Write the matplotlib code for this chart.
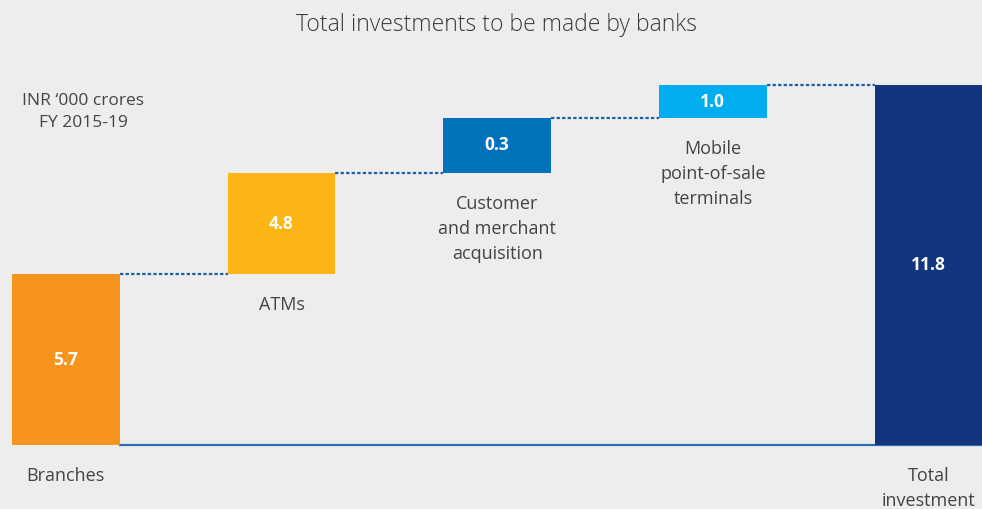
import matplotlib
matplotlib.use("Agg")
import matplotlib.pyplot as plt
from matplotlib import font_manager

# ---- data ----
categories = ["Branches", "ATMs", "Customer\nand merchant\nacquisition",
              "Mobile\npoint-of-sale\nterminals", "Total\ninvestment"]
value_labels = ["5.7", "4.8", "0.3", "1.0", "11.8"]
# displayed segment heights as drawn in the reference (not to scale)
segment_heights = [5.62, 3.33, 1.82, 1.06]
total_height = 11.83
colors = ["#F7941D", "#FDB515", "#0072BC", "#00AEEF", "#12357E"]

title = "Total investments to be made by banks"
unit_note = "INR \u2018000 crores\nFY 2015-19"

# ---- style ----
avail = {f.name for f in font_manager.fontManager.ttflist}
fam = ["Open Sans", "DejaVu Sans"] if "Open Sans" in avail else ["DejaVu Sans"]
plt.rcParams["font.family"] = fam
bg = "#EDEDED"
text_col = "#444444"

fig = plt.figure(figsize=(9.82, 5.09), dpi=100, facecolor=bg)
ax = fig.add_axes([0, 0, 1, 1])
ax.set_facecolor(bg)
ax.set_xlim(-0.305, 4.248)
ax.set_ylim(-2.105, 14.64)
ax.axis("off")

w = 0.5
bottoms = []
acc = 0.0
for h in segment_heights:
    bottoms.append(acc)
    acc += h
heights = segment_heights + [total_height]
bottoms = bottoms + [0.0]
xs = list(range(len(heights)))

ax.bar(xs, heights, bottom=bottoms, width=w, color=colors, edgecolor="none", zorder=3)

# connectors
tops = [b + h for b, h in zip(bottoms, heights)]
for i in range(len(xs) - 1):
    ax.plot([xs[i] + w / 2, xs[i + 1] - w / 2], [tops[i], tops[i]],
            color="#1F5FA6", lw=1.6, ls=(0, (1.5, 1.0)), zorder=2)

# baseline
ax.plot([xs[0] + w / 2, ax.get_xlim()[1]], [0, 0], color="#2E6DB0", lw=1.6, zorder=2)

# value labels
for x, b, h, lab in zip(xs, bottoms, heights, value_labels):
    ax.text(x, b + h / 2, lab, color="white", fontsize=12.5, fontweight="bold",
            ha="center", va="center", zorder=4)

# category labels below bars
for i, (x, b, cat) in enumerate(zip(xs, bottoms, categories)):
    ax.annotate(cat, xy=(x, b), xytext=(0, -16), textcoords="offset points",
                ha="center", va="top", fontsize=13, color=text_col,
                linespacing=1.5, zorder=4)

fig.text(0.506, 0.955 - 0.004, title, ha="center", va="center", fontsize=16.5,
         color="#3a3a3a", fontweight="light")
fig.text(0.085, 0.78, unit_note, ha="center", va="center", fontsize=12.5,
         color=text_col, linespacing=1.5)

fig.savefig("out.png", dpi=100, facecolor=bg)
